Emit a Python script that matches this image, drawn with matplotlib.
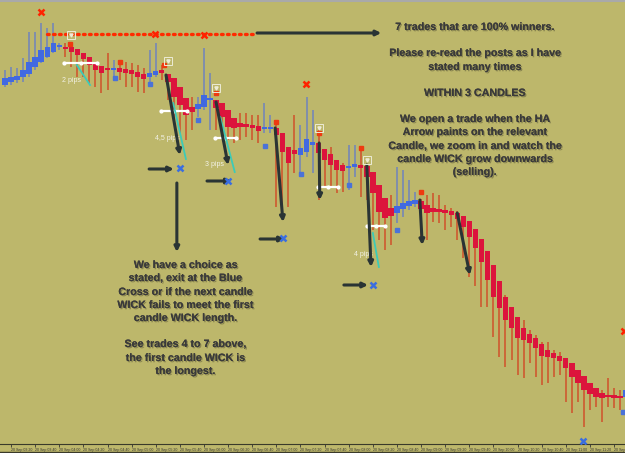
import numpy as np
import matplotlib
matplotlib.use("Agg")
import matplotlib.pyplot as plt
import matplotlib.patheffects as pe
from matplotlib.lines import Line2D

# Heikin-Ashi candles (5 min bars).
# Price values are screen levels: smaller number = higher price (y axis is inverted)
open_ = [85, 82, 80, 77, 74, 67, 62, 57, 52, 47,
         47, 47, 49, 53, 57, 62, 66, 68, 70, 68,
         69, 70, 72, 74, 77, 75, 70, 74, 78, 87,
         98, 107, 109, 107, 100, 100, 103, 110, 118, 123,
         124, 125, 126, 129, 129, 128, 133, 147, 150, 155,
         152, 145, 143, 149, 154, 160, 165, 168, 167, 165,
         166, 172, 185, 198, 208, 213, 209, 206, 204, 201,
         205, 208, 209, 210, 211, 213, 216, 221, 229, 239,
         251, 265, 281, 297, 307, 317, 328, 334, 338, 344,
         350, 353, 356, 358, 363, 370, 376, 383, 388, 393,
         395, 395, 396, 397]
close_ = [78, 77, 76, 70, 62, 57, 50, 47, 43, 45,
          49, 52, 55, 59, 65, 70, 73, 70, 68, 72,
          73, 74, 77, 79, 73, 71, 73, 82, 97, 105,
          115, 112, 104, 95, 98, 108, 117, 127, 128, 127,
          127, 128, 131, 127, 127, 135, 152, 163, 154, 148,
          139, 142, 153, 160, 165, 170, 171, 166, 164, 168,
          177, 193, 212, 218, 216, 206, 203, 201, 200, 209,
          213, 212, 212, 213, 215, 219, 227, 237, 248, 262,
          280, 297, 308, 320, 328, 338, 340, 343, 348, 356,
          357, 358, 361, 368, 377, 383, 390, 394, 397, 398,
          397, 398, 398, 390]
high_ = [70, 67, 68, 58, 32, 32, 23, 28, 23, 43,
         43, 47, 49, 53, 57, 62, 66, 53, 60, 60,
         62, 63, 65, 68, 50, 43, 65, 74, 78, 87,
         98, 97, 97, 48, 73, 100, 103, 110, 118, 113,
         113, 115, 115, 103, 115, 123, 133, 147, 115, 125,
         97, 110, 130, 149, 147, 160, 163, 145, 145, 150,
         166, 172, 185, 198, 195, 167, 170, 180, 192, 199,
         195, 193, 195, 205, 208, 211, 216, 221, 229, 239,
         251, 265, 281, 295, 307, 317, 320, 330, 335, 342,
         342, 350, 352, 358, 363, 370, 376, 383, 388, 390,
         378, 388, 390, 380]
low_ = [87, 85, 83, 82, 77, 70, 63, 58, 53, 50,
        57, 67, 77, 77, 83, 87, 93, 90, 80, 80,
        87, 87, 92, 93, 83, 77, 80, 100, 120, 133,
        140, 130, 117, 110, 130, 130, 133, 140, 143, 140,
        137, 140, 143, 133, 133, 207, 210, 207, 173, 173,
        157, 173, 200, 187, 187, 193, 192, 190, 177, 197,
        200, 230, 240, 250, 245, 223, 217, 210, 207, 240,
        240, 222, 223, 230, 227, 240, 258, 277, 286, 307,
        307, 337, 357, 367, 360, 375, 378, 363, 377, 385,
        383, 377, 375, 402, 413, 402, 427, 410, 407, 422,
        407, 408, 410, 405]

tick_pos = list(range(1, 102, 4))
tick_labels = ['20 Sep 03:20', '20 Sep 03:40', '20 Sep 04:00', '20 Sep 04:20',
               '20 Sep 04:40', '20 Sep 05:00', '20 Sep 05:20', '20 Sep 05:40',
               '20 Sep 06:00', '20 Sep 06:20', '20 Sep 06:40', '20 Sep 07:00',
               '20 Sep 07:20', '20 Sep 07:40', '20 Sep 08:00', '20 Sep 08:20',
               '20 Sep 08:40', '20 Sep 09:00', '20 Sep 09:20', '20 Sep 09:40',
               '20 Sep 10:00', '20 Sep 10:20', '20 Sep 10:40', '20 Sep 11:00',
               '20 Sep 11:20', '20 Sep 11:40']

# signal markers (candle index, level)
red_x = [(6, 12), (24.9, 34), (33, 35), (49.9, 84), (102.6, 331)]
blue_x = [(29, 168), (37, 181), (46.1, 238), (61, 285), (95.9, 441)]
blue_dots = [(18.2, 78), (24, 84), (32, 120), (43.1, 146), (49.1, 174),
             (57, 185), (65, 230), (102.5, 412)]
red_dots = [(10.8, 44), (19, 62), (26.3, 65), (35, 93), (45, 122),
            (52, 133), (59, 148), (69, 192)]
ha_boxes = [(11, 35), (27, 61), (35, 88), (52, 128), (60, 160)]

BG = '#BDB76B'
plt.rcParams['font.family'] = ['Liberation Sans', 'DejaVu Sans']

fig = plt.figure(figsize=(6.25, 4.53), dpi=100)
fig.patch.set_facecolor(BG)
ax = fig.add_axes([0, 9 / 453, 1, 444 / 453])
ax.set_facecolor(BG)

o = np.array(open_, float)
c = np.array(close_, float)
h = np.array(high_, float)
l = np.array(low_, float)
idx = np.arange(len(o))
bull = c < o
body_col = np.where(bull, '#4169E1', '#DC143C')
wick_col = np.where(bull, '#6f83bd', '#d0502a')

ax.vlines(idx, h, l, colors=wick_col, lw=1.1, zorder=2)
ax.bar(idx, np.maximum(np.abs(o - c), 1.8), bottom=np.minimum(o, c),
       width=0.9, color=body_col, zorder=3)

# red dotted level
ax.plot([7, 41.8], [34, 34], color='#ff2a00', lw=2.4, ls=(0, (0.5, 1.3)),
        dash_capstyle='round', zorder=4)

# white measuring lines
for x0, x1, y in [(9.8, 15.3, 63), (25.9, 30.2, 111), (34.8, 38.3, 138),
                  (51.9, 55.2, 187), (60, 63, 226)]:
    ax.plot([x0, x1], [y, y], color='white', lw=1.6, zorder=5)
    ax.plot([x0, (x0 + x1) / 2, x1], [y, y, y], 'o', color='white', ms=2, zorder=5)

# cyan wick lines
for x0, y0, x1, y1 in [(11.9, 65, 14.1, 85), (27.9, 103, 30, 159),
                       (35.7, 117, 38.1, 172), (61, 233, 62, 267)]:
    ax.plot([x0, x1], [y0, y1], color='#3ccbb8', lw=1.3, zorder=5)

# pip labels
for x, y, s in [(11.1, 81, '2 pips'), (26.9, 138, '4,5 pips'),
                (34.8, 164, '3 pips'), (59.4, 254, '4 pips')]:
    ax.text(x, y, s, color='#f2f2e6', fontsize=5, ha='center', va='center', zorder=5)

arrow_kw = dict(arrowstyle='-|>', color='#2a3434', lw=2.2, mutation_scale=7,
                shrinkA=0, shrinkB=0)
# slanted wick arrows
for x0, y0, x1, y1 in [(26.7, 75, 29, 155), (35, 102, 37, 165), (44.8, 128, 46.1, 222),
                       (52.1, 143, 52.2, 200), (60, 165, 60.7, 267),
                       (68.8, 200, 69.2, 245), (75, 213, 77.1, 275)]:
    ax.annotate('', xy=(x1, y1), xytext=(x0, y0), arrowprops=arrow_kw, zorder=6)
# horizontal arrows to exit crosses
for x0, x1, y in [(23.9, 28.0, 169), (33.5, 37.6, 181), (42.3, 46.4, 239),
                  (56.2, 60.2, 285), (41.8, 62.4, 33)]:
    ax.annotate('', xy=(x1, y), xytext=(x0, y), arrowprops=arrow_kw, zorder=6)
ax.annotate('', xy=(28.5, 252), xytext=(28.5, 183), arrowprops=arrow_kw, zorder=6)

for x, y in red_x:
    ax.plot(x, y, 'x', color='#ff2200', ms=4.5, mew=1.8, zorder=7)
for x, y in blue_x:
    ax.plot(x, y, 'x', color='#3a6ee0', ms=4.5, mew=1.8, zorder=7)
for x, y in blue_dots:
    ax.plot(x, y, 's', color='#4a72d8', ms=2.6, zorder=7)
for x, y in red_dots:
    ax.plot(x, y, 's', color='#ee3a10', ms=3, zorder=7)
for x, y in ha_boxes:
    ax.plot(x, y, 's', mfc='none', mec='#ecebd6', mew=0.7, ms=5.5, zorder=7)
    ax.plot(x, y, 'v', color='#ecebd6', ms=2.3, zorder=7)

shadow = [pe.withSimplePatchShadow(offset=(0.9, -0.9), shadow_rgbFace='#4a4830', alpha=0.45),
          pe.Normal()]
right_lines = [("7 trades that are 100% winners.", 27),
               ("Please re-read the posts as I have", 53),
               ("stated many times", 67),
               ("WITHIN 3 CANDLES", 93),
               ("We open a trade when the HA", 119),
               ("Arrow paints on the relevant", 132),
               ("Candle, we zoom in and watch the", 146),
               ("candle WICK grow downwards", 159),
               ("(selling).", 172)]
left_lines = [("We have a choice as", 265),
              ("stated, exit at the Blue", 278),
              ("Cross or if the next candle", 292),
              ("WICK fails to meet the first", 305),
              ("candle WICK length.", 318),
              ("See trades 4 to 7 above,", 344),
              ("the first candle WICK is", 358),
              ("the longest.", 371)]
for xc, lines in [(77.9, right_lines), (29.9, left_lines)]:
    for s, y in lines:
        ax.text(xc, y, s, color='#3a3a3a', fontsize=7.7, fontweight='bold',
                ha='center', va='center', path_effects=shadow, zorder=8)

ax.set_xlim(-0.83, 102.82)
ax.set_ylim(444, 0)
ax.set_yticks([])
ax.set_xticks(tick_pos)
ax.set_xticklabels(tick_labels)
for lab in ax.get_xticklabels():
    lab.set_ha('left')
ax.tick_params(axis='x', labelsize=2.6, length=2, pad=0.8, colors='#333333', width=0.6)
for side in ['left', 'right', 'top']:
    ax.spines[side].set_visible(False)
ax.spines['bottom'].set_color('#3a3a2a')
ax.spines['bottom'].set_linewidth(0.8)

fig.add_artist(Line2D([0, 1], [1.5 / 453, 1.5 / 453], color='#3a3a2a', lw=1))
fig.add_artist(Line2D([0, 1], [1 - 1 / 453, 1 - 1 / 453], color='#a9a9a9', lw=1.5))

fig.savefig('out.png', dpi=100, facecolor=BG)
